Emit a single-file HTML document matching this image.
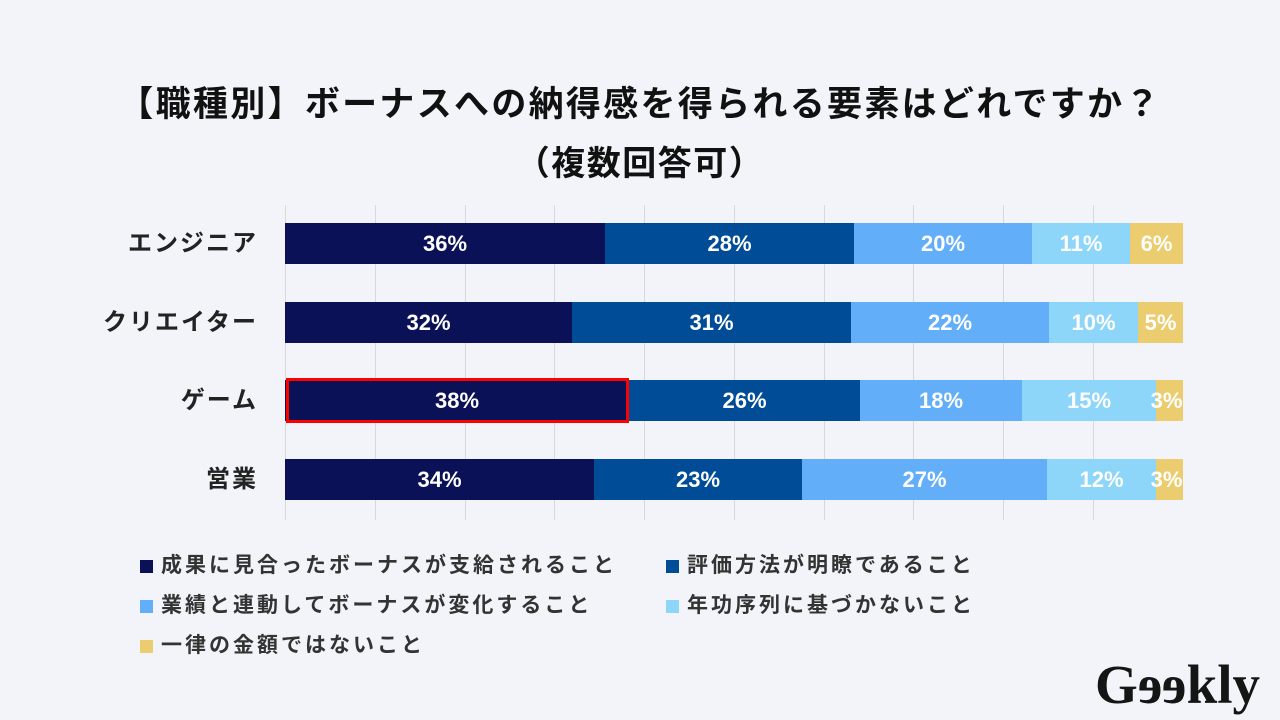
<!DOCTYPE html><html><head><meta charset="utf-8"><style>
body{margin:0;width:1280px;height:720px;background:#f2f4f9;position:relative;overflow:hidden;font-family:"Liberation Sans","Noto Sans CJK JP",sans-serif;}
.a{position:absolute}
.t{left:0;width:1280px;text-align:center;font-weight:bold;font-size:34px;letter-spacing:1.5px;color:#111}
.g{width:1px;background:#d6d8dc;top:205px;height:315px}
.s{height:41px;color:#fff;font-weight:bold;font-size:22px;line-height:41px;text-align:center;white-space:nowrap}
.c{width:252px;text-align:right;font-weight:bold;font-size:24px;letter-spacing:2px;color:#222;line-height:41px;left:6px}
.l{font-size:21px;letter-spacing:3px;font-weight:bold;color:#333;line-height:24px;white-space:nowrap}
.l i{display:inline-block;width:13px;height:13px;margin-right:8px;vertical-align:-1px}
</style></head><body>
<div class="a t" style="top:76px;font-size:35px;letter-spacing:2.3px">【職種別】ボーナスへの納得感を得られる要素はどれですか？</div>
<div class="a t" style="top:136px">（複数回答可）</div>
<div class="a g" style="left:285px"></div><div class="a g" style="left:375px"></div><div class="a g" style="left:465px"></div><div class="a g" style="left:554px"></div><div class="a g" style="left:644px"></div><div class="a g" style="left:734px"></div><div class="a g" style="left:824px"></div><div class="a g" style="left:913px"></div><div class="a g" style="left:1003px"></div><div class="a g" style="left:1093px"></div>

<div class="a c" style="top:223px">エンジニア</div>
<div class="a s" style="top:223px;left:285px;width:320px;background:#0b1157">36%</div>
<div class="a s" style="top:223px;left:605px;width:249px;background:#004c97">28%</div>
<div class="a s" style="top:223px;left:854px;width:178px;background:#63aef8">20%</div>
<div class="a s" style="top:223px;left:1032px;width:98px;background:#8ed6f9">11%</div>
<div class="a s" style="top:223px;left:1130px;width:53px;background:#ebcc6e">6%</div>

<div class="a c" style="top:302px">クリエイター</div>
<div class="a s" style="top:302px;left:285px;width:287px;background:#0b1157">32%</div>
<div class="a s" style="top:302px;left:572px;width:279px;background:#004c97">31%</div>
<div class="a s" style="top:302px;left:851px;width:198px;background:#63aef8">22%</div>
<div class="a s" style="top:302px;left:1049px;width:89px;background:#8ed6f9">10%</div>
<div class="a s" style="top:302px;left:1138px;width:45px;background:#ebcc6e">5%</div>

<div class="a c" style="top:380px">ゲーム</div>
<div class="a s" style="top:380px;left:285px;width:344px;background:#0b1157">38%</div>
<div class="a s" style="top:380px;left:629px;width:231px;background:#004c97">26%</div>
<div class="a s" style="top:380px;left:860px;width:162px;background:#63aef8">18%</div>
<div class="a s" style="top:380px;left:1022px;width:134px;background:#8ed6f9">15%</div>
<div class="a s" style="top:380px;left:1156px;width:27px;background:#ebcc6e;text-indent:-6px">3%</div>
<div class="a" style="top:378px;left:286px;width:337px;height:39px;border:3px solid #f00"></div>

<div class="a c" style="top:459px">営業</div>
<div class="a s" style="top:459px;left:285px;width:309px;background:#0b1157">34%</div>
<div class="a s" style="top:459px;left:594px;width:208px;background:#004c97">23%</div>
<div class="a s" style="top:459px;left:802px;width:245px;background:#63aef8">27%</div>
<div class="a s" style="top:459px;left:1047px;width:109px;background:#8ed6f9">12%</div>
<div class="a s" style="top:459px;left:1156px;width:27px;background:#ebcc6e;text-indent:-6px">3%</div>

<div class="a l" style="left:140px;top:554px"><i style="background:#0b1157"></i>成果に見合ったボーナスが支給されること</div>
<div class="a l" style="left:666px;top:554px"><i style="background:#004c97"></i>評価方法が明瞭であること</div>
<div class="a l" style="left:140px;top:594px"><i style="background:#63aef8"></i>業績と連動してボーナスが変化すること</div>
<div class="a l" style="left:666px;top:594px"><i style="background:#8ed6f9"></i>年功序列に基づかないこと</div>
<div class="a l" style="left:140px;top:634px"><i style="background:#ebcc6e"></i>一律の金額ではないこと</div>
<div class="a" style="left:1095px;top:654px;font-family:'Liberation Serif',serif;font-weight:bold;font-size:55px;color:#151515;line-height:62px">G<span style="display:inline-block;transform:scaleX(-1)">e</span><span style="display:inline-block;transform:scaleX(-1)">e</span>kly</div>
</body></html>
